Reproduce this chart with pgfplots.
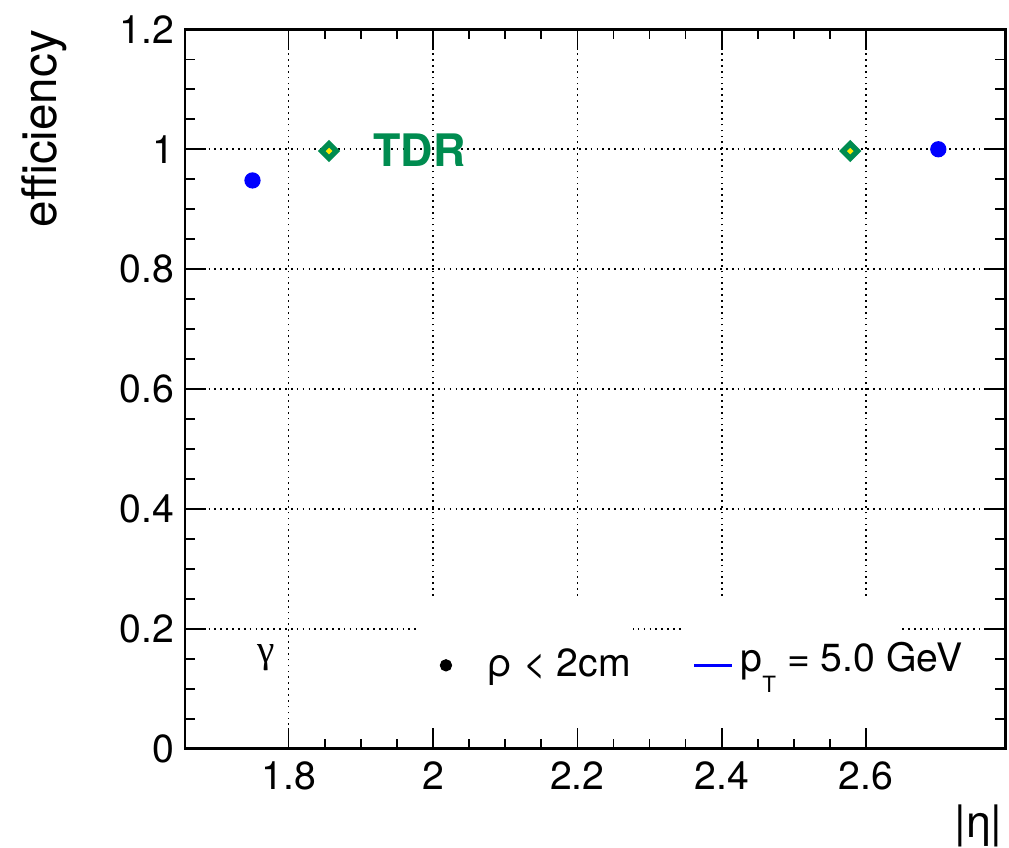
\documentclass[border=0pt]{standalone}
\usepackage{fontspec}
\setmainfont{TeX Gyre Heros}
\newfontfamily\grk{Liberation Serif}
\usepackage{pgfplots}
\pgfplotsset{compat=1.18}
\definecolor{tdrgreen}{RGB}{0,140,80}
\definecolor{tdryellow}{RGB}{255,235,0}
\begin{document}
\begin{tikzpicture}
\begin{axis}[
  scale only axis, width=292.9pt, height=256.9pt,
  xmin=1.6566, xmax=2.7925, ymin=0, ymax=1.2,
  xtick={1.8,2,2.2,2.4,2.6},
  ytick={0,0.2,0.4,0.6,0.8,1,1.2},
  minor x tick num=3, minor y tick num=3,
  tick align=inside,
  major tick length=7.5pt, minor tick length=3.6pt,
  tick style={black, line width=0.6pt},
  axis line style={line width=1pt},
  grid=major,
  major grid style={black, line width=0.6pt, dash pattern=on 0.6pt off 1.5pt},
  /pgf/number format/assume math mode=true,
  ticklabel style={font=\fontsize{14}{14}\selectfont, inner sep=0pt},
  xticklabel style={yshift=-4.6pt},
  yticklabel style={xshift=-3.6pt},
  ylabel={efficiency},
  ylabel style={font=\fontsize{17}{17}\selectfont, at={(axis description cs:-0.1714,1)}, anchor=east, inner sep=0pt},
  xlabel={|η|},
  xlabel style={font=\fontsize{16}{16}\selectfont, at={(axis description cs:1,0)}, anchor=north east, inner sep=0pt, yshift=-20pt, xshift=-0.7pt},
]
\addplot[only marks, mark=*, mark size=2.7pt, color=blue] coordinates {(1.75,0.948) (2.70,1.0)};
\addplot[only marks, mark=square*, mark size=1.85pt, mark options={rotate=45, draw=tdrgreen, fill=tdryellow, line width=1.9pt}] coordinates {(1.856,0.997) (2.578,0.997)};
\fill[white] (axis cs:1.982,0.034) rectangle (axis cs:2.277,0.252);
\fill[white] (axis cs:2.349,0.034) rectangle (axis cs:2.650,0.252);
\node[anchor=west, inner sep=0pt, font=\fontsize{16}{16}\selectfont\bfseries, text=tdrgreen] at (axis cs:1.917,0.9987) {TDR};
\node[font=\fontsize{14}{14}\selectfont\grk, inner sep=0pt] at (axis cs:1.769,0.152) {γ};
\addplot[only marks, mark=*, mark size=2pt, black] coordinates {(2.018,0.139)};
\node[anchor=base west, inner sep=0pt, font=\fontsize{14}{14}\selectfont] at (axis cs:2.0745,0.1198) {ρ < 2cm};
\addplot[blue, line width=1pt] coordinates {(2.362,0.139) (2.414,0.139)};
\node[anchor=base west, inner sep=0pt, font=\fontsize{14}{14}\selectfont] at (axis cs:2.4254,0.128) {p\raisebox{-7.5pt}{\fontsize{8}{8}\selectfont T} = 5.0 GeV};
\end{axis}
\pgfresetboundingbox
\path[use as bounding box] ([xshift=-66.1pt,yshift=-35.2pt]current axis.south west) rectangle ([xshift=1.4pt,yshift=10.5pt]current axis.north east);
\end{tikzpicture}
\end{document}
